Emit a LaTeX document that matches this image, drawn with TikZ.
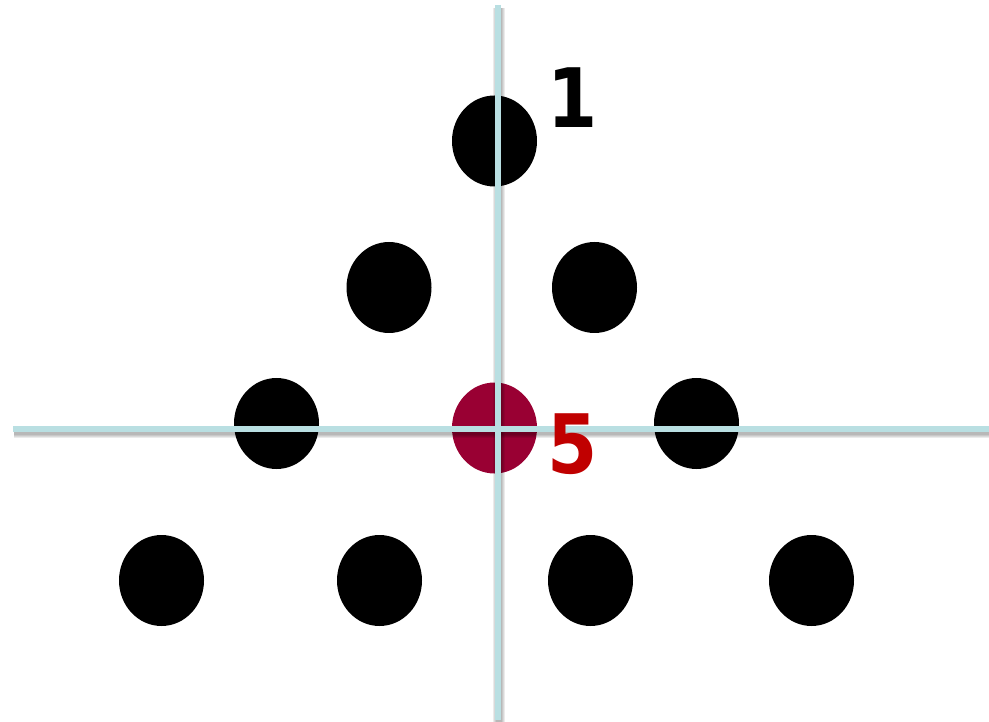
\documentclass[tikz,border=0pt]{standalone}
\usepackage{fontspec}
\usetikzlibrary{shapes.geometric, positioning}
\newfontfamily\labelfont{DejaVu Sans}

\definecolor{axisblue}{HTML}{B9DFE2}
\definecolor{dotred}{HTML}{990033}
\definecolor{labelred}{HTML}{C00000}

\tikzset{
  dot/.style={ellipse, fill=black, minimum width=85pt, minimum height=91pt, inner sep=0pt},
  centredot/.style={dot, fill=dotred},
  axisline/.style={axisblue, line width=6pt},
  axisshadow/.style={black, line width=#1, opacity=0.08},
  numlabel/.style={font=\labelfont\bfseries\fontsize{82}{82}\selectfont, inner sep=0pt, anchor=base, xscale=0.88}
}

\begin{document}
\begin{tikzpicture}[x=1pt, y=-1pt]
\useasboundingbox (0,0) rectangle (989,722);

% triangle of dots, row by row
\node[dot] (d1) at (494.5,141) {};
\node[dot] (d2) at (389,287.5) {};
\node[dot] (d3) at (594.5,287.5) {};
\node[dot] (d4) at (276.5,423.5) {};
\node[centredot] (d5) at (494.5,428) {};
\node[dot] (d6) at (696.5,423.5) {};
\node[dot] (d7) at (161.5,580.5) {};
\node[dot] (d8) at (379.5,580.5) {};
\node[dot] (d9) at (590.5,580.5) {};
\node[dot] (d10) at (811.5,580.5) {};

% axes with soft shadow
\coordinate (hl) at (13,429);
\coordinate (hr) at (989,429);
\coordinate (vt) at (498,5);
\coordinate (vb) at (498,720);
\foreach \w in {12pt,10pt,8pt,6pt} {
  \draw[axisshadow=\w] ([shift={(1,3)}]hl) -- ([shift={(1,3)}]hr);
  \draw[axisshadow=\w] ([shift={(1,3)}]vt) -- ([shift={(1,3)}]vb);
}
\draw[axisline] (hl) -- (hr);
\draw[axisline] (vt) -- (vb);

% labels
\node[numlabel] (lab1) at (572.5,128) {1};
\node[numlabel, text=labelred] (lab5) at (573,473) {5};
\end{tikzpicture}
\end{document}
